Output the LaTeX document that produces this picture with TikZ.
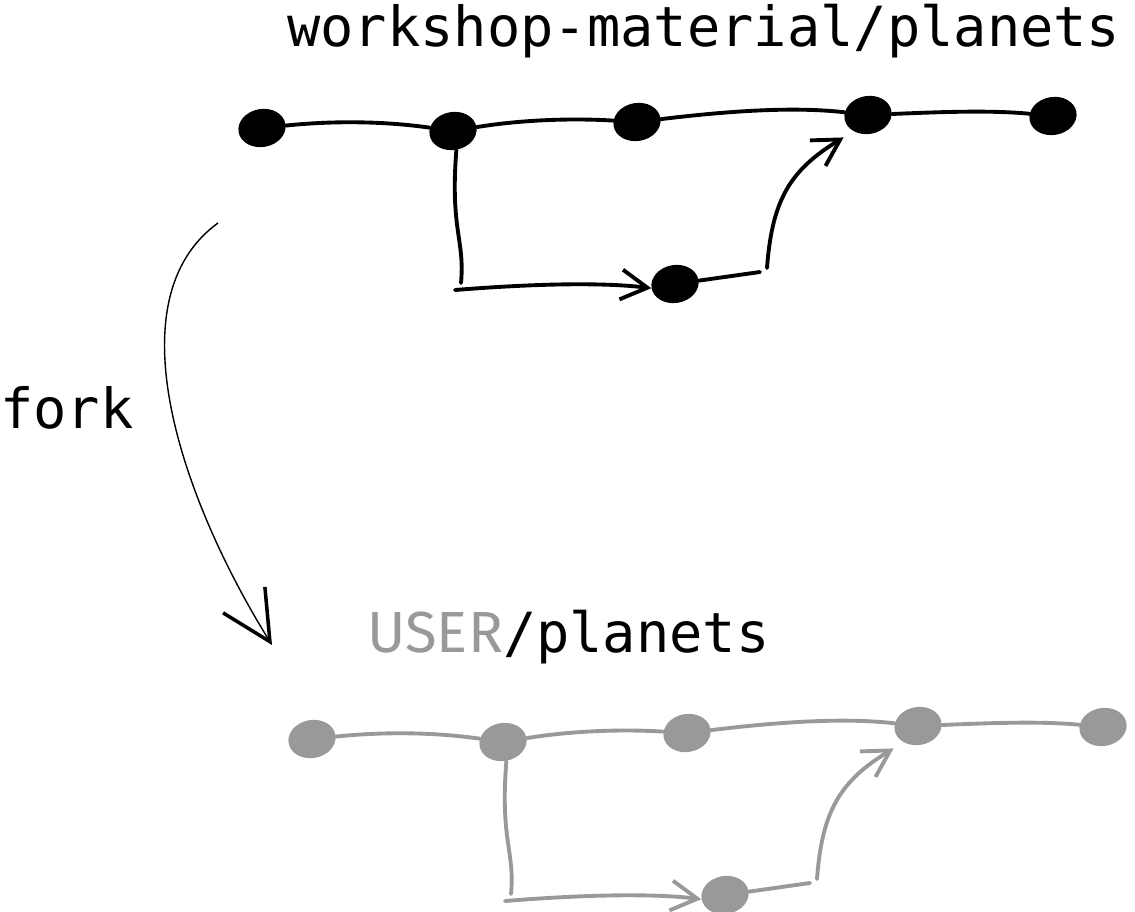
\documentclass[tikz,border=0pt]{standalone}
\usepackage{fontspec}
\setmonofont{DejaVu Sans Mono}
\newfontfamily\usersans{Fira Sans}
\usetikzlibrary{shapes.geometric,arrows.meta}
\definecolor{forkgray}{HTML}{999999}

\tikzset{
  commitdot/.style={ellipse, fill=#1, draw=none, rotate=10,
    minimum width=0.95cm, minimum height=0.76cm, inner sep=0pt},
  commitdot/.default=black,
  history/.style={draw=#1, line width=2.2pt, line cap=round},
  history/.default=black,
  mergearrow/.style={history=#1, -{Straight Barb[length=15pt,width=17pt]}},
  repotitle/.style={font=\ttfamily\fontsize{31.5}{38}\selectfont, inner sep=0pt, anchor=base west},
}

\begin{document}
\begin{tikzpicture}[x=0.02cm, y=-0.02cm]
  \useasboundingbox (0,0) rectangle (1135,912);

  % repository names
  \node[repotitle] (uptitle) at (287,47) {workshop-material/planets};
  \node[repotitle] (usertitle) at (367,652)
    {{\usersans\fontsize{33}{40}\selectfont\color{forkgray}USER}/planets};
  \node[repotitle] (forklabel) at (0,428) {fork};

  % the same history twice: upstream and the fork
  \foreach \repo/\dx/\dy/\col in {up/0/0/black, user/50/611/forkgray} {
    \begin{scope}[shift={(\dx,\dy)}]
      \node[commitdot=\col] (\repo-1) at (262,128) {};
      \node[commitdot=\col] (\repo-2) at (453,131) {};
      \node[commitdot=\col] (\repo-3) at (637,122) {};
      \node[commitdot=\col] (\repo-4) at (868,115) {};
      \node[commitdot=\col] (\repo-5) at (1053,116) {};
      \node[commitdot=\col] (\repo-b) at (675,284) {};
      \coordinate (\repo-down) at (461,283);
      \coordinate (\repo-start) at (455,290);
      \coordinate (\repo-end) at (760,272);
      \coordinate (\repo-up) at (767,268);

      \draw[history=\col] (\repo-1) .. controls (340,120) and (390,122) .. (\repo-2);
      \draw[history=\col] (\repo-2) .. controls (520,120) and (570,118) .. (\repo-3);
      \draw[history=\col] (\repo-3) .. controls (720,112) and (790,106) .. (\repo-4);
      \draw[history=\col] (\repo-4) .. controls (940,112) and (990,110) .. (\repo-5);
      % branch off and merge back
      \draw[history=\col] (\repo-2.south) .. controls (450,230) and (465,240) .. (\repo-down);
      \draw[mergearrow=\col] (\repo-start) .. controls (530,284) and (600,282) .. (\repo-b.west);
      \draw[history=\col] (\repo-b) -- (\repo-end);
      \draw[mergearrow=\col] (\repo-up) .. controls (772,200) and (790,170) .. ([shift={(-10,6)}]\repo-4.south west);
    \end{scope}
  }

  % fork arrow
  \coordinate (forkstart) at (218,223);
  \coordinate (forkend) at (272,645);
  \draw[line width=0.8pt, -{Straight Barb[length=28pt,width=28pt,line width=2pt]}]
    (forkstart) .. controls (112,300) and (182,500) .. (forkend);
\end{tikzpicture}
\end{document}
